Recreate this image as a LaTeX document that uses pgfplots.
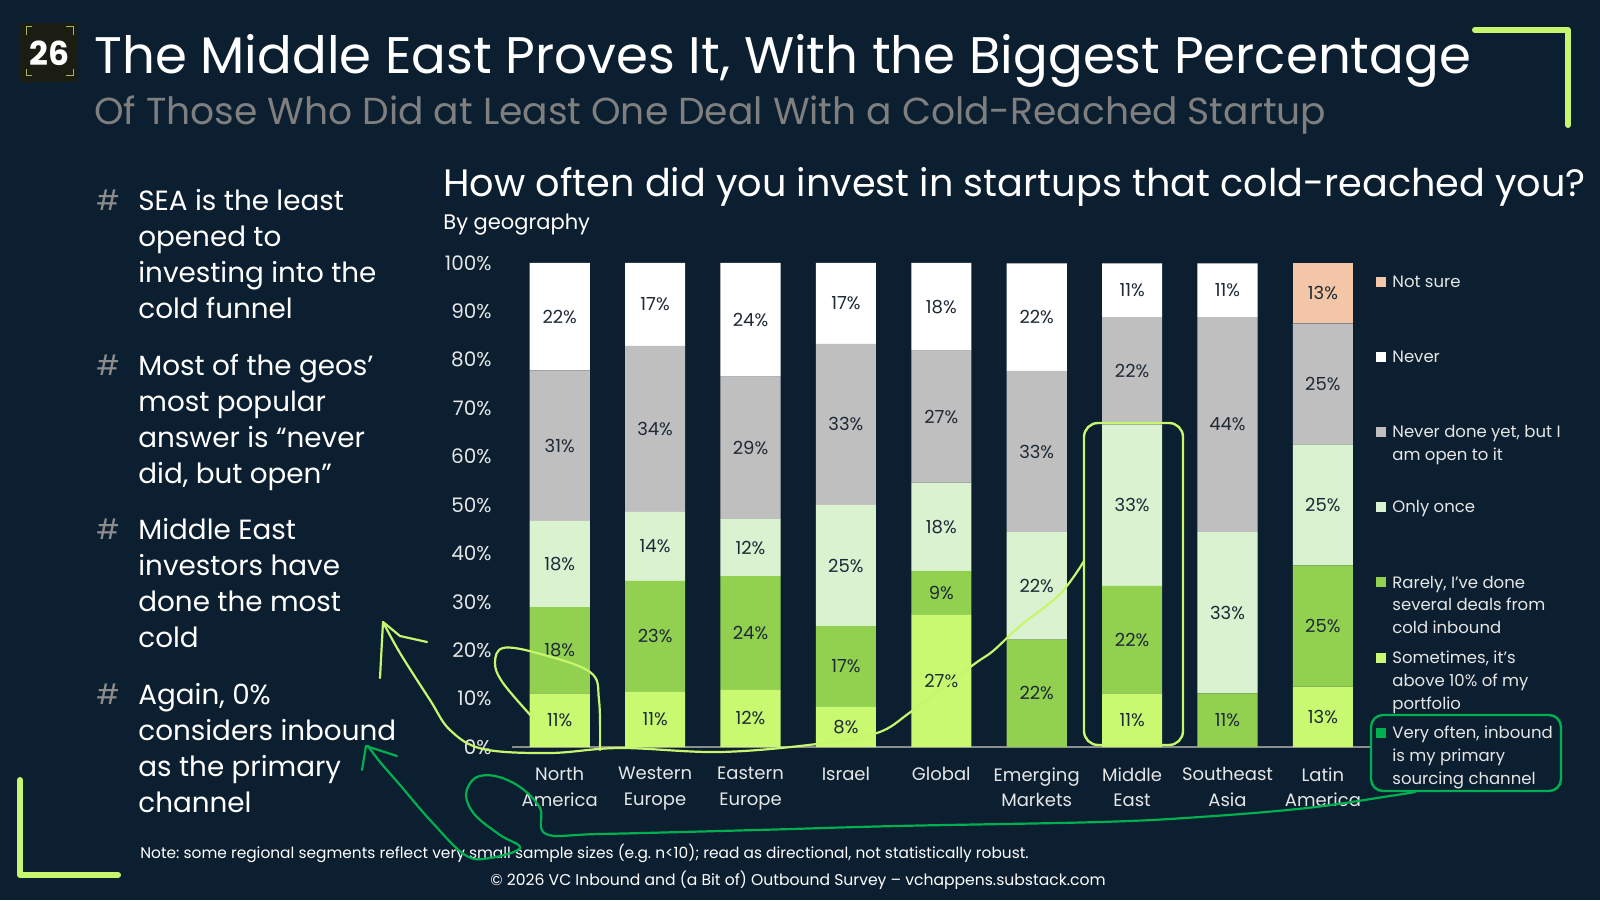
\documentclass[border=0pt]{standalone}
\usepackage{pgfplots}
\pgfplotsset{compat=1.18}
\usepackage{pgfplotstable}
\usepackage{fontspec}
\setmainfont{Poppins}
\frenchspacing
\definecolor{bg}{HTML}{0B1F30}
\definecolor{lime}{HTML}{C6F56E}
\definecolor{sometimes}{HTML}{C8F970}
\definecolor{rarely}{HTML}{92D050}
\definecolor{once}{HTML}{DAF2D0}
\definecolor{open}{HTML}{BFBFBF}
\definecolor{never}{HTML}{FFFFFF}
\definecolor{notsure}{HTML}{F4C6A8}
\definecolor{vgreen}{HTML}{00B050}
\definecolor{subgray}{HTML}{7F7F7F}
\definecolor{hashgray}{HTML}{8C8C8C}
\definecolor{lbl}{HTML}{1E2A36}
\definecolor{tick}{HTML}{E6E6E6}
\definecolor{basegray}{HTML}{8C8C8C}
\definecolor{boxbg}{HTML}{1B1C12}
\definecolor{boxcorner}{HTML}{A8B45A}

% x: 0 North America, 1 Western Europe, 2 Eastern Europe, 3 Israel, 4 Global,
%    5 Emerging Markets, 6 Middle East, 7 Southeast Asia, 8 Latin America
\pgfplotstableread{
x vo so ra on op nv ns
0 0 11.1 17.8 17.8 31.1 22.2 0
1 0 11.4 22.9 14.3 34.3 17.1 0
2 0 11.8 23.5 11.8 29.4 23.5 0
3 0 8.3 16.7 25.0 33.3 16.7 0
4 0 27.3 9.1 18.2 27.3 18.1 0
5 0 0 22.2 22.2 33.3 22.2 0
6 0 11.1 22.2 33.3 22.2 11.1 0
7 0 0 11.1 33.3 44.4 11.1 0
8 0 12.5 25.0 25.0 25.0 0 12.5
}\geo

\begin{document}
\begin{tikzpicture}
\useasboundingbox (0,0) rectangle (800pt,450pt);
\fill[bg] (0,0) rectangle (800pt,450pt);

\begin{scope}[yshift=450pt, x=0.5pt, y=-0.5pt]
% number box
\fill[boxbg] (20,23) rectangle (78,82);
\draw[boxcorner, line width=0.5pt] (26,35) -- (26,27) -- (32,27);
\draw[boxcorner, line width=0.5pt] (66,27) -- (73,27) -- (73,35);
\draw[boxcorner, line width=0.5pt] (26,69) -- (26,76) -- (32,76);
\draw[boxcorner, line width=0.5pt] (66,76) -- (73,76) -- (73,69);
\node[text=white, font=\fontsize{16.5}{20}\selectfont\bfseries] at (49.5,53) {26};

% titles
\node[anchor=base west, inner sep=0pt, text=white, font=\fontsize{25.7}{30}\selectfont] at (94,73.5) {The Middle East Proves It, With the Biggest Percentage};
\node[anchor=base west, inner sep=0pt, text=subgray, font=\fontsize{18.8}{22}\selectfont] at (94,124.5) {Of Those Who Did at Least One Deal With a Cold-Reached Startup};
\node[anchor=base west, inner sep=0pt, text=white, font=\fontsize{19.1}{22}\selectfont] at (443,197) {How often did you invest in startups that cold-reached you?};
\node[anchor=base west, inner sep=0pt, text=white, font=\fontsize{10.5}{13}\selectfont] at (443,229.6) {By geography};

% brackets
\draw[lime, line width=3pt, line cap=round, line join=round] (1475,30) -- (1568,30) -- (1568,125);
\draw[lime, line width=3pt, line cap=round, line join=round] (20,780) -- (20,875) -- (118,875);

% bullets
\begin{scope}[every node/.style={anchor=base west, inner sep=0pt, text=white, font=\fontsize{13.9}{17}\selectfont}]
\node[text=hashgray] at (96,211) {\#};
\node at (138,211) {SEA is the least};
\node at (138,247) {opened to};
\node at (138,283) {investing into the};
\node at (138,319) {cold funnel};
\node[text=hashgray] at (96,375.5) {\#};
\node at (138,375.5) {Most of the geos’};
\node at (138,411.7) {most popular};
\node at (138,448) {answer is “never};
\node at (138,484) {did, but open”};
\node[text=hashgray] at (96,540) {\#};
\node at (138,540) {Middle East};
\node at (138,576) {investors have};
\node at (138,612) {done the most};
\node at (138,648) {cold};
\node[text=hashgray] at (96,704) {\#};
\node at (138,704) {Again, 0\%};
\node at (138,740) {considers inbound};
\node at (138,776) {as the primary};
\node at (138,812) {channel};
\end{scope}

% legend
\begin{scope}[every node/.style={anchor=base west, inner sep=0pt, text=tick, font=\fontsize{8.25}{10}\selectfont}]
\fill[notsure] (1376,277) rectangle (1386,287);
\node at (1392,287.8) {Not sure};
\fill[never] (1376,352) rectangle (1386,362);
\node at (1392,362.8) {Never};
\fill[open] (1376,427) rectangle (1386,437);
\node at (1392,437.8) {Never done yet, but I};
\node at (1392,460.5) {am open to it};
\fill[once] (1376,501.6) rectangle (1386,511.6);
\node at (1392,512.4) {Only once};
\fill[rarely] (1376,577.4) rectangle (1386,587.4);
\node at (1392,588.2) {Rarely, I've done};
\node at (1392,610.9) {several deals from};
\node at (1392,633.6) {cold inbound};
\fill[sometimes] (1376,653) rectangle (1386,663);
\node at (1392,663.8) {Sometimes, it's};
\node at (1392,686.5) {above 10\% of my};
\node at (1392,709.2) {portfolio};
\fill[vgreen] (1376,727.8) rectangle (1386,737.8);
\node at (1392,738.6) {Very often, inbound};
\node at (1392,761.3) {is my primary};
\node at (1392,784) {sourcing channel};
\end{scope}

% notes
\node[anchor=base west, inner sep=0pt, text=white, font=\fontsize{7.7}{9}\selectfont] at (140,858) {Note: some regional segments reflect very small sample sizes (e.g. n<10); read as directional, not statistically robust.};
\node[anchor=base, inner sep=0pt, text=white, font=\fontsize{7.8}{9}\selectfont] at (798,885) {© 2026 VC Inbound and (a Bit of) Outbound Survey – vchappens.substack.com};
\end{scope}

\begin{axis}[
  at={(256pt,76.5pt)}, anchor=south west,
  scale only axis, width=429.3pt, height=242pt,
  xmin=-0.5, xmax=8.5, ymin=0, ymax=100,
  ybar stacked, bar width=0.63,
  axis x line*=bottom, axis y line*=left,
  x axis line style={draw=basegray, line width=0.6pt, -},
  y axis line style={draw=none, -},
  major tick length=0pt,
  xtick={0,...,8},
  xticklabels={North\\America, Western\\Europe, Eastern\\Europe, Israel, Global, Emerging\\Markets, Middle\\East, Southeast\\Asia, Latin\\America},
  xticklabel style={align=center, text=tick, font=\fontsize{9}{12.75}\selectfont, anchor=north, inner sep=0pt, yshift=-10pt},
  ytick={0,10,20,30,40,50,60,70,80,90,100},
  yticklabels={0\%,10\%,20\%,30\%,40\%,50\%,60\%,70\%,80\%,90\%,100\%},
  yticklabel style={text=tick, font=\fontsize{10}{12}\selectfont, anchor=east, inner sep=0pt, xshift=-10pt},
  nodes near coords={\ifdim\rawy pt>0.5pt\pgfmathprintnumber[fixed,precision=0,assume math mode=true]{\rawy}\%\fi},
  every node near coord/.append style={text=lbl, font=\fontsize{9}{11}\selectfont, anchor=center},
]
\addplot[fill=vgreen, draw=none, visualization depends on={\thisrow{vo} \as \rawy}] table[x=x,y=vo]{\geo};
\addplot[fill=sometimes, draw=none, visualization depends on={\thisrow{so} \as \rawy}] table[x=x,y=so]{\geo};
\addplot[fill=rarely, draw=none, visualization depends on={\thisrow{ra} \as \rawy}] table[x=x,y=ra]{\geo};
\addplot[fill=once, draw=none, visualization depends on={\thisrow{on} \as \rawy}] table[x=x,y=on]{\geo};
\addplot[fill=open, draw=none, visualization depends on={\thisrow{op} \as \rawy}] table[x=x,y=op]{\geo};
\addplot[fill=never, draw=none, visualization depends on={\thisrow{nv} \as \rawy}] table[x=x,y=nv]{\geo};
\addplot[fill=notsure, draw=none, visualization depends on={\thisrow{ns} \as \rawy}] table[x=x,y=ns]{\geo};
\end{axis}

\begin{scope}[yshift=450pt, x=0.5pt, y=-0.5pt]
% highlight boxes
\draw[lime, line width=1.2pt, rounded corners=7pt] (1084,423) rectangle (1183,745);
\draw[vgreen, line width=1.2pt, rounded corners=6pt] (1371,715) rectangle (1561,791);
% hand-drawn lime stroke
\draw[lime, line width=1.1pt, line cap=round, line join=round] plot[smooth, tension=0.6] coordinates {(1084,561) (1060,594) (1020,626) (993,651) (973,665) (912,711) (877,733) (817,744) (720,752) (620,748) (550,753) (483,749) (450,730) (430,700) (400,653) (383,622)};
\draw[lime, line width=1.1pt, line cap=round, line join=round] plot[smooth, tension=0.6] coordinates {(600,750) (599,700) (590,672) (537,653) (503,648) (495,663) (503,683) (533,718)};
\draw[lime, line width=1.1pt, line cap=round, line join=round] (380,678) -- (383,622) -- (400,636) -- (427,642);
% hand-drawn green stroke
\draw[vgreen, line width=1.1pt, line cap=round, line join=round] plot[smooth, tension=0.6] coordinates {(1415,792) (1390,796) (1307,808) (1200,817) (1100,822) (897,826) (757,830) (600,834) (546,834) (540,808) (520,787) (495,776) (475,778) (466,795) (475,815) (500,835) (520,848) (490,858) (465,855) (430,820) (400,785) (380,762) (368,746)};
\draw[vgreen, line width=1.1pt, line cap=round, line join=round] (362,770) -- (366,746) -- (397,756);
\end{scope}
\end{tikzpicture}
\end{document}
